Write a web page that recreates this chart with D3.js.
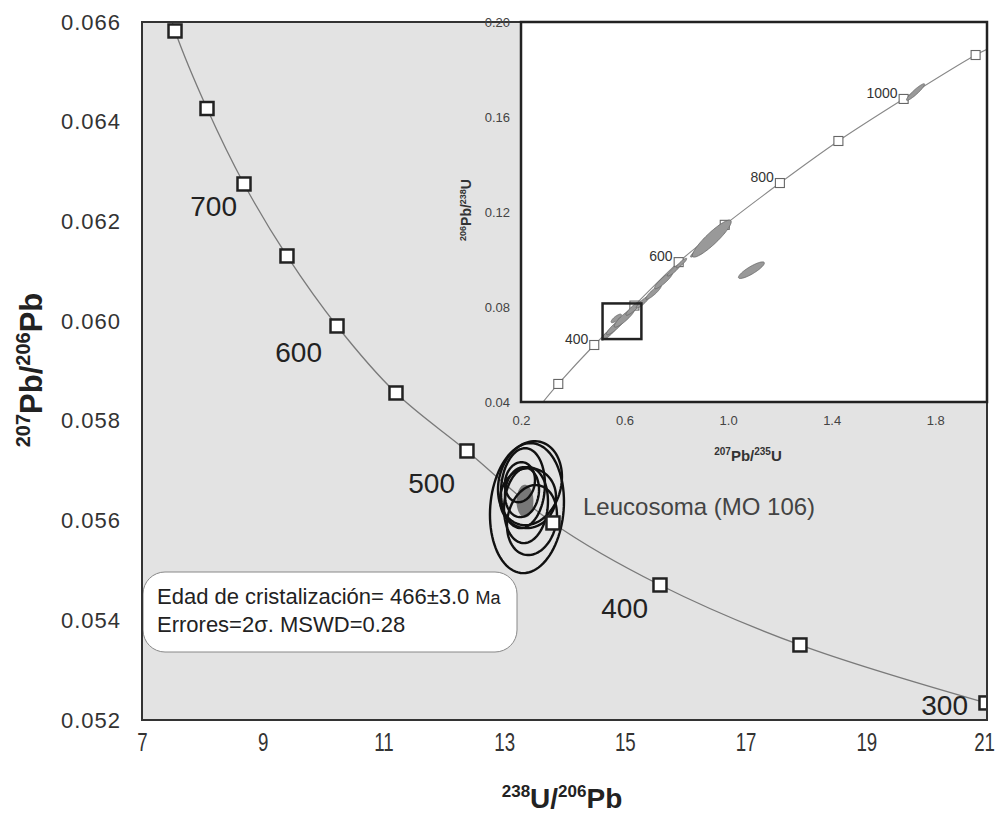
<!DOCTYPE html>
<html>
<head>
<meta charset="utf-8">
<script src="https://cdn.jsdelivr.net/npm/d3@7/dist/d3.min.js"></script>
<style>
  body { margin: 0; background: #fff; }
  text { font-family: 'Liberation Sans', Arial, sans-serif; }
</style>
</head>
<body>
<div id="chart"></div>
<script>
// Tera-Wasserburg concordia, markers every 50 Ma
var twAges = [800, 750, 700, 650, 600, 550, 500, 450, 400, 350, 300];
var twX = [7.547, 8.077, 8.690, 9.402, 10.231, 11.208, 12.384, 13.809, 15.582, 17.901, 20.983];
var twY = [0.06582, 0.064265, 0.062751, 0.061307, 0.059903, 0.058559, 0.057396, 0.055952, 0.054708, 0.053505, 0.052342];
var twCurveStart = [7.49, 0.06605];
var twLabelAges = [700, 600, 500, 400, 300];

// zircon analyses: [x, 2s x, y, 2s y, rho]
var twEllipses = [
    [13.378, 0.613, 0.05625, 0.001304, 0.10],
    [13.428, 0.530, 0.05675, 0.000842, 0.15],
    [13.312, 0.364, 0.05665, 0.000802, 0.10],
    [13.395, 0.464, 0.05645, 0.000602, 0.05],
    [13.362, 0.364, 0.05631, 0.000762, 0.10],
    [13.296, 0.282, 0.05657, 0.000501, 0.10],
    [13.461, 0.414, 0.05601, 0.000702, 0.15],
    [13.262, 0.249, 0.05677, 0.000401, 0.10]
];
var twMean = [13.345, 0.140, 0.05639, 0.000330, 0.0];

// Wetherill concordia (inset), markers every 100 Ma
var wAges = [300, 400, 500, 600, 700, 800, 900, 1000, 1100];
var wX = [0.344, 0.483, 0.638, 0.809, 0.987, 1.200, 1.426, 1.678, 1.956];
var wY = [0.0476, 0.0640, 0.0806, 0.0989, 0.1146, 0.1322, 0.1499, 0.1676, 0.1861];
var wCurveStart = [0.285, 0.040];
var wCurveEnd = [2.0, 0.1885];
var wLabelAges = [400, 600, 800, 1000];
var wEllipses = [
    [0.540, 0.030, 0.0690, 0.0030, 0.90],
    [0.565, 0.035, 0.0718, 0.0035, 0.90],
    [0.568, 0.020, 0.0752, 0.0018, 0.80],
    [0.600, 0.040, 0.0755, 0.0040, 0.90],
    [0.635, 0.030, 0.0795, 0.0030, 0.90],
    [0.670, 0.025, 0.0820, 0.0025, 0.90],
    [0.712, 0.030, 0.0862, 0.0030, 0.90],
    [0.751, 0.035, 0.0912, 0.0035, 0.90],
    [0.790, 0.025, 0.0955, 0.0025, 0.90],
    [0.820, 0.020, 0.0985, 0.0020, 0.90],
    [0.875, 0.020, 0.1030, 0.0020, 0.90],
    [0.937, 0.075, 0.1088, 0.0078, 0.91],
    [1.090, 0.050, 0.0955, 0.0035, 0.86],
    [1.724, 0.035, 0.1705, 0.0035, 0.93]
];
var wZoomBox = [0.515, 0.665, 0.0665, 0.0815];

var xTicks = [7, 9, 11, 13, 15, 17, 19, 21];
var yTicks = [0.052, 0.054, 0.056, 0.058, 0.060, 0.062, 0.064, 0.066];
var wXTicks = [0.2, 0.6, 1.0, 1.4, 1.8];
var wYTicks = [0.04, 0.08, 0.12, 0.16, 0.20];

var width = 996, height = 822;
var margin = {left: 142, right: 9, top: 22, bottom: 102};

var svg = d3.select('#chart').append('svg')
    .attr('width', width)
    .attr('height', height);

var x = d3.scaleLinear().domain([7, 21]).range([margin.left, width - margin.right]);
var y = d3.scaleLinear().domain([0.052, 0.066]).range([height - margin.bottom, margin.top]);

function ellipsePts(e) {
    var pts = [];
    for (var i = 0; i <= 90; i++) {
        var t = i / 90 * 2 * Math.PI;
        pts.push([e[0] + e[1] * Math.cos(t),
            e[2] + e[3] * (e[4] * Math.cos(t) + Math.sqrt(1 - e[4] * e[4]) * Math.sin(t))]);
    }
    return pts;
}

svg.append('clipPath').attr('id', 'mainClip').append('rect')
    .attr('x', x(7)).attr('y', y(0.066))
    .attr('width', x(21) - x(7)).attr('height', y(0.052) - y(0.066));

// main plot background
svg.append('rect')
    .attr('x', x(7)).attr('y', y(0.066))
    .attr('width', x(21) - x(7)).attr('height', y(0.052) - y(0.066))
    .attr('fill', '#e3e3e3');

var main = svg.append('g').attr('clip-path', 'url(#mainClip)');

var twLine = d3.line()
    .x(function (d) { return x(d[0]); })
    .y(function (d) { return y(d[1]); })
    .curve(d3.curveCatmullRom);

var twPts = [twCurveStart].concat(twX.map(function (v, i) { return [v, twY[i]]; }));
main.append('path')
    .attr('d', twLine(twPts))
    .attr('fill', 'none')
    .attr('stroke', '#7a7a7a')
    .attr('stroke-width', 1.3);

var ellLine = d3.line()
    .x(function (d) { return x(d[0]); })
    .y(function (d) { return y(d[1]); })
    .curve(d3.curveLinearClosed);

main.append('path')
    .attr('d', ellLine(ellipsePts(twMean)))
    .attr('fill', '#777');

main.selectAll('path.ell').data(twEllipses).enter().append('path')
    .attr('class', 'ell')
    .attr('d', function (d) { return ellLine(ellipsePts(d)); })
    .attr('fill', 'none')
    .attr('stroke', '#111')
    .attr('stroke-width', 2.4);

main.selectAll('rect.mk').data(twAges).enter().append('rect')
    .attr('class', 'mk')
    .attr('x', function (d, i) { return x(twX[i]) - 6.5; })
    .attr('y', function (d, i) { return y(twY[i]) - 6.5; })
    .attr('width', 13).attr('height', 13)
    .attr('fill', '#fff')
    .attr('stroke', '#222')
    .attr('stroke-width', 2.5);

var twLabelOffset = {700: [-7, 32], 600: [-15, 36], 500: [-12, 42], 400: [-12, 33], 300: [-18, 12]};
svg.selectAll('text.age').data(twLabelAges).enter().append('text')
    .attr('class', 'age')
    .attr('x', function (d) { return x(twX[twAges.indexOf(d)]) + twLabelOffset[d][0]; })
    .attr('y', function (d) { return y(twY[twAges.indexOf(d)]) + twLabelOffset[d][1]; })
    .attr('text-anchor', 'end')
    .attr('font-size', 28)
    .attr('fill', '#222')
    .text(function (d) { return d; });

svg.append('text')
    .attr('x', 583).attr('y', 515)
    .attr('font-size', 24)
    .attr('fill', '#444')
    .text('Leucosoma (MO 106)');

// result box
svg.append('rect')
    .attr('x', 143).attr('y', 572)
    .attr('width', 374).attr('height', 80)
    .attr('rx', 22).attr('ry', 22)
    .attr('fill', '#fff')
    .attr('stroke', '#888')
    .attr('stroke-width', 1);
var t1 = svg.append('text').attr('x', 157).attr('y', 604).attr('font-size', 22).attr('fill', '#222');
t1.append('tspan').text('Edad de cristalización= 466±3.0 ');
t1.append('tspan').attr('font-size', 18).text('Ma');
svg.append('text').attr('x', 157).attr('y', 632).attr('font-size', 22).attr('fill', '#222')
    .text('Errores=2σ. MSWD=0.28');

// main axes
var yAxis = d3.axisLeft(y).tickValues(yTicks).tickFormat(d3.format('.3f')).tickSize(0).tickPadding(21);
var xAxis = d3.axisBottom(x).tickValues(xTicks).tickFormat(d3.format('d')).tickSize(0).tickPadding(13);
svg.append('g').attr('class', 'y axis')
    .attr('transform', 'translate(' + x(7) + ',0)')
    .call(yAxis)
    .call(function (g) { g.select('.domain').remove(); })
    .selectAll('text')
    .attr('font-size', 22).attr('letter-spacing', 1).attr('fill', '#333')
    .style('font-family', "'Liberation Sans', Arial, sans-serif");
svg.append('g').attr('class', 'x axis')
    .attr('transform', 'translate(0,' + y(0.052) + ')')
    .call(xAxis)
    .call(function (g) { g.select('.domain').remove(); })
    .selectAll('text')
    .attr('font-size', 26).attr('fill', '#333')
    .attr('transform', 'scale(0.72,1)')
    .attr('dx', function (d) { return d === 21 ? -4 : 0; })
    .style('font-family', "'Liberation Sans', Arial, sans-serif");

svg.append('rect')
    .attr('x', x(7)).attr('y', y(0.066))
    .attr('width', x(21) - x(7)).attr('height', y(0.052) - y(0.066))
    .attr('fill', 'none')
    .attr('stroke', '#333')
    .attr('stroke-width', 2);

// axis titles
var xt = svg.append('text')
    .attr('x', 562).attr('y', 808)
    .attr('text-anchor', 'middle')
    .attr('font-size', 28).attr('font-weight', 'bold').attr('fill', '#222');
xt.append('tspan').attr('font-size', 17).attr('dy', -11).text('238');
xt.append('tspan').attr('dy', 11).text('U/');
xt.append('tspan').attr('font-size', 17).attr('dy', -11).text('206');
xt.append('tspan').attr('dy', 11).text('Pb');

var yt = svg.append('text')
    .attr('transform', 'translate(42,370) rotate(-90)')
    .attr('text-anchor', 'middle')
    .attr('font-size', 31).attr('font-weight', 'bold').attr('fill', '#222');
yt.append('tspan').attr('font-size', 20).attr('dy', -12).text('207');
yt.append('tspan').attr('dy', 12).text('Pb/');
yt.append('tspan').attr('font-size', 20).attr('dy', -12).text('206');
yt.append('tspan').attr('dy', 12).text('Pb');

// inset: Wetherill concordia
var wx = d3.scaleLinear().domain([0.2, 2.0]).range([521, x(21)]);
var wy = d3.scaleLinear().domain([0.04, 0.20]).range([402, y(0.066)]);

svg.append('clipPath').attr('id', 'insetClip').append('rect')
    .attr('x', wx(0.2)).attr('y', wy(0.2))
    .attr('width', wx(2.0) - wx(0.2)).attr('height', wy(0.04) - wy(0.2));

svg.append('rect')
    .attr('x', wx(0.2)).attr('y', wy(0.2))
    .attr('width', wx(2.0) - wx(0.2)).attr('height', wy(0.04) - wy(0.2))
    .attr('fill', '#fff');

var inset = svg.append('g').attr('clip-path', 'url(#insetClip)');

var wLine = d3.line()
    .x(function (d) { return wx(d[0]); })
    .y(function (d) { return wy(d[1]); })
    .curve(d3.curveCatmullRom);
var wPts = [wCurveStart].concat(wX.map(function (v, i) { return [v, wY[i]]; })).concat([wCurveEnd]);
inset.append('path')
    .attr('d', wLine(wPts))
    .attr('fill', 'none')
    .attr('stroke', '#888')
    .attr('stroke-width', 1.1);

inset.selectAll('rect.wmk').data(wAges).enter().append('rect')
    .attr('class', 'wmk')
    .attr('x', function (d, i) { return wx(wX[i]) - 4.5; })
    .attr('y', function (d, i) { return wy(wY[i]) - 4.5; })
    .attr('width', 9).attr('height', 9)
    .attr('fill', '#fff')
    .attr('stroke', '#666')
    .attr('stroke-width', 1.1);

var wEllLine = d3.line()
    .x(function (d) { return wx(d[0]); })
    .y(function (d) { return wy(d[1]); })
    .curve(d3.curveLinearClosed);
inset.selectAll('path.well').data(wEllipses).enter().append('path')
    .attr('class', 'well')
    .attr('d', function (d) { return wEllLine(ellipsePts(d)); })
    .attr('fill', '#999')
    .attr('stroke', '#666')
    .attr('stroke-width', 0.8);

inset.append('rect')
    .attr('x', wx(wZoomBox[0])).attr('y', wy(wZoomBox[3]))
    .attr('width', wx(wZoomBox[1]) - wx(wZoomBox[0]))
    .attr('height', wy(wZoomBox[2]) - wy(wZoomBox[3]))
    .attr('fill', 'none')
    .attr('stroke', '#222')
    .attr('stroke-width', 2.5);

svg.selectAll('text.wage').data(wLabelAges).enter().append('text')
    .attr('class', 'wage')
    .attr('x', function (d) { return wx(wX[wAges.indexOf(d)]) - 6; })
    .attr('y', function (d) { return wy(wY[wAges.indexOf(d)]) - 1; })
    .attr('text-anchor', 'end')
    .attr('font-size', 14)
    .attr('fill', '#333')
    .text(function (d) { return d; });

var wyAxis = d3.axisLeft(wy).tickValues(wYTicks).tickFormat(d3.format('.2f')).tickSize(0).tickPadding(11);
var wxAxis = d3.axisBottom(wx).tickValues(wXTicks).tickFormat(d3.format('.1f')).tickSize(0).tickPadding(14);
svg.append('g')
    .attr('transform', 'translate(' + wx(0.2) + ',0)')
    .call(wyAxis)
    .call(function (g) { g.select('.domain').remove(); })
    .selectAll('text')
    .attr('font-size', 13).attr('fill', '#444')
    .style('font-family', "'Liberation Sans', Arial, sans-serif");
svg.append('g')
    .attr('transform', 'translate(0,' + wy(0.04) + ')')
    .call(wxAxis)
    .call(function (g) { g.select('.domain').remove(); })
    .selectAll('text')
    .attr('font-size', 13).attr('fill', '#444')
    .style('font-family', "'Liberation Sans', Arial, sans-serif");

svg.append('rect')
    .attr('x', wx(0.2)).attr('y', wy(0.2))
    .attr('width', wx(2.0) - wx(0.2)).attr('height', wy(0.04) - wy(0.2))
    .attr('fill', 'none')
    .attr('stroke', '#222')
    .attr('stroke-width', 2.5);

var wxt = svg.append('text')
    .attr('x', 748).attr('y', 461)
    .attr('text-anchor', 'middle')
    .attr('font-size', 15).attr('font-weight', 'bold').attr('fill', '#333');
wxt.append('tspan').attr('font-size', 10).attr('dy', -6).text('207');
wxt.append('tspan').attr('dy', 6).text('Pb/');
wxt.append('tspan').attr('font-size', 10).attr('dy', -6).text('235');
wxt.append('tspan').attr('dy', 6).text('U');

var wyt = svg.append('text')
    .attr('transform', 'translate(471,210) rotate(-90)')
    .attr('text-anchor', 'middle')
    .attr('font-size', 14).attr('font-weight', 'bold').attr('fill', '#333');
wyt.append('tspan').attr('font-size', 9).attr('dy', -5).text('206');
wyt.append('tspan').attr('dy', 5).text('Pb/');
wyt.append('tspan').attr('font-size', 9).attr('dy', -5).text('238');
wyt.append('tspan').attr('dy', 5).text('U');
</script>
</body>
</html>
